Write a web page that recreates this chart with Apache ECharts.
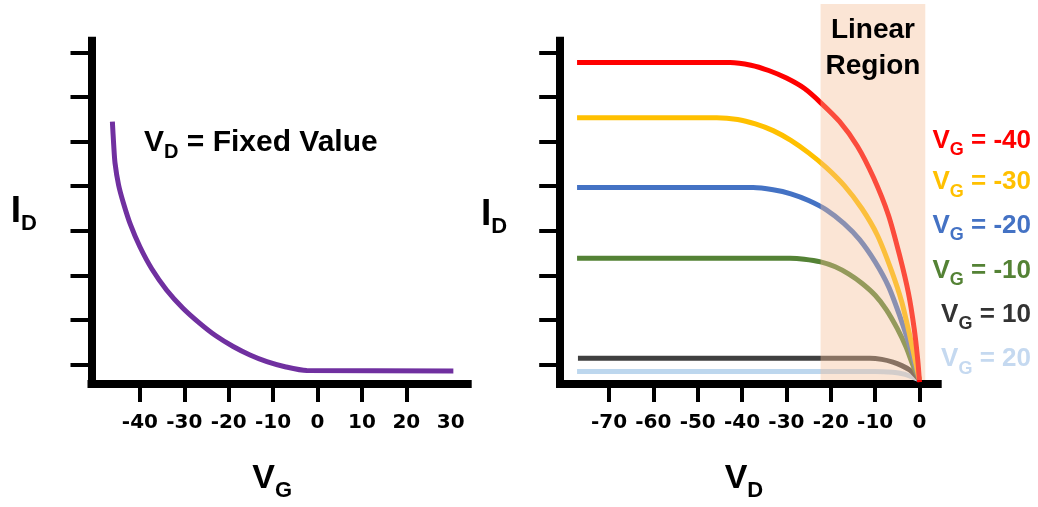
<!DOCTYPE html>
<html><head><meta charset="utf-8">
<script src="https://cdn.jsdelivr.net/npm/echarts@6/dist/echarts.min.js"></script>
<style>html,body{margin:0;padding:0;background:#fff}#c{width:1038px;height:507px}</style>
</head><body><div id="c"></div>
<script>
// ---- Left chart: I_D vs V_G at fixed V_D ----
const gateVoltage = [-46.2, -45.9, -45.6, -44.8, -43.7, -42.1, -40.0, -37.3, -34.0, -30.3, -26.5, -22.9, -19.0, -15.2, -11.4, -7.1, -2.4, 30.6];
const gateCurrent = [6.45, 5.93, 5.52, 5.03, 4.62, 4.13, 3.64, 3.14, 2.67, 2.26, 1.92, 1.64, 1.40, 1.21, 1.06, 0.94, 0.86, 0.85];
const leftXTicks = [-40, -30, -20, -10, 0, 10, 20];
const leftXLabels = [-40, -30, -20, -10, 0, 10, 20, 30];

// ---- Right chart: I_D vs V_D for several V_G ----
const rightXTicks = [-70, -60, -50, -40, -30, -20, -10, 0];
const yTicks = [1, 2, 3, 4, 5, 6, 7, 8];
const vgLabels = ['-40', '-30', '-20', '-10', '10', '20'];
const vdM40 = [-77.2, -42.7, -38, -34, -30, -26, -22.3, -18, -14, -10.4, -7, -4.5, -2.5, -1.2, -0.4, 0];
const idM40 = [7.78, 7.78, 7.72, 7.6, 7.43, 7.2, 6.88, 6.45, 5.9, 5.2, 4.35, 3.45, 2.6, 1.8, 1.1, 0.6];
const vdM30 = [-77.2, -45.7, -41, -37, -33, -29, -25, -21, -17, -13, -9.5, -6.3, -4, -2.2, -0.9, 0];
const idM30 = [6.54, 6.54, 6.5, 6.4, 6.25, 6.03, 5.75, 5.42, 5.02, 4.5, 3.9, 3.1, 2.4, 1.65, 1.05, 0.65];
const vdM20 = [-77.2, -37.5, -33, -29, -25, -21, -17, -13.5, -10, -7, -4.5, -2.5, -1, 0];
const idM20 = [4.97, 4.97, 4.92, 4.83, 4.68, 4.47, 4.16, 3.8, 3.3, 2.75, 2.1, 1.5, 0.98, 0.65];
const vdM10 = [-77.2, -29.2, -26, -22.3, -19, -16, -13, -10, -7.5, -5, -3, -1.5, 0];
const idM10 = [3.38, 3.38, 3.36, 3.3, 3.19, 3.03, 2.82, 2.55, 2.23, 1.8, 1.38, 0.98, 0.65];
const vdP10 = [-77.0, -11.2, -8.5, -6, -4, -2.2, -1, 0];
const idP10 = [1.135, 1.135, 1.11, 1.05, 0.97, 0.87, 0.76, 0.65];
const vdP20 = [-77.2, -10, -6, -3.5, -1.5, 0];
const idP20 = [0.84, 0.84, 0.82, 0.78, 0.71, 0.65];
const linearRegion = [-22.3, 1.3];

const curvesX = [vdM40, vdM30, vdM20, vdM10, vdP10, vdP20];
const curvesY = [idM40, idM30, idM20, idM10, idP10, idP20];
const lineColors = ['#ff0000', '#ffc000', '#4472c4', '#548235', '#404040', '#bdd7ee'];
const labelColors = ['#ff0000', '#ffc000', '#4472c4', '#548235', '#333333', '#c5d9f0'];

const SANS = "'Liberation Sans', Arial, sans-serif";
const TICKFONT = "'DejaVu Sans', Verdana, sans-serif";

const zip = (a, b) => a.map((v, i) => [v, b[i]]);

function subRich(F, f, P, color) {
  return {
    m: {fontSize: F, fontWeight: 'bold', fontFamily: SANS, color: color, fill: color, lineHeight: Math.round(F * 1.1), verticalAlign: 'bottom', padding: [0, 0, P, 0]},
    s: {fontSize: f, fontWeight: 'bold', fontFamily: SANS, color: color, fill: color, lineHeight: Math.round(f * 1.1), verticalAlign: 'bottom'}
  };
}

function xAxis(gridIndex, min, max, ticks, labels, nameText, padRight) {
  return {
    type: 'value', gridIndex, min, max,
    axisLine: {show: true, onZero: false, lineStyle: {color: '#000', width: 8, cap: 'square'}},
    axisTick: {show: true, customValues: ticks, length: 18, lineStyle: {color: '#000', width: 4}},
    axisLabel: {show: true, customValues: labels, margin: 29, color: '#000', fontSize: 20, fontWeight: 'bold', fontFamily: TICKFONT},
    splitLine: {show: false},
    name: nameText, nameLocation: 'middle', nameGap: 81,
    nameTextStyle: {padding: [0, padRight, 0, 0], rich: subRich(34, 22, 6, '#000')}
  };
}
function yAxis(gridIndex, nameGap, padTop) {
  return {
    type: 'value', gridIndex, min: 0.557, max: 8.27,
    axisLine: {show: true, onZero: false, lineStyle: {color: '#000', width: 8, cap: 'square'}},
    axisTick: {show: true, customValues: yTicks, length: 21, lineStyle: {color: '#000', width: 4}},
    axisLabel: {show: false},
    splitLine: {show: false},
    name: '{m|I}{s|D}', nameLocation: 'middle', nameRotate: 0, nameGap: nameGap,
    nameTextStyle: {padding: [padTop, 0, 0, 0], rich: subRich(37, 22, 5, '#000')}
  };
}

const chart = echarts.init(document.getElementById('c'), null, {renderer: 'canvas'});

const series = [{
  type: 'line', xAxisIndex: 0, yAxisIndex: 0,
  data: zip(gateVoltage, gateCurrent), showSymbol: false, smooth: 0.25,
  lineStyle: {color: '#7030a0', width: 5}, z: 3
}];
curvesX.forEach((xs, i) => {
  series.push({
    type: 'line', xAxisIndex: 1, yAxisIndex: 1, name: 'VG ' + vgLabels[i],
    data: zip(xs, curvesY[i]), showSymbol: false, smooth: 0.25,
    lineStyle: {color: lineColors[i], width: 5}, z: 3 + (5 - i)
  });
});

const legendTexts = vgLabels.map((lab, i) => ({
  type: 'text', id: 'lg' + i, z: 20,
  x: 1031, y: [159.5, 201.2, 244.5, 289.5, 333.5, 378][i],
  style: {
    text: '{m|V}{s|G}{m| = ' + lab + '}', align: 'right', verticalAlign: 'bottom',
    fill: labelColors[i],
    rich: subRich(26, 18, 6, labelColors[i])
  }
}));

chart.setOption({
  animation: false,
  grid: [
    {left: 91.5, top: 40.7, right: 570.3, bottom: 123, outerBoundsMode: 'none', containLabel: false},
    {left: 560.2, top: 40.7, right: 100.3, bottom: 123, outerBoundsMode: 'none', containLabel: false}
  ],
  xAxis: [
    xAxis(0, -50.9, 33.83, leftXTicks, leftXLabels, '{m|V}{s|G}', 15),
    xAxis(1, -81.0, 4.1, rightXTicks, rightXTicks, '{m|V}{s|D}', 10)
  ],
  yAxis: [yAxis(0, 54.5, 4), yAxis(1, 53, 10)],
  series: series,
  graphic: [
    {
      type: 'text', id: 'fixed', z: 20, x: 144, y: 162.3,
      style: {text: '{m|V}{s|D}{m| = Fixed Value}', align: 'left', verticalAlign: 'bottom', fill: '#000', rich: subRich(30, 20, 5, '#000')}
    }
  ].concat(legendTexts)
});

// Linear region overlay, positioned through the right chart's axes
const xl = chart.convertToPixel({xAxisIndex: 1}, linearRegion[0]);
const xr = chart.convertToPixel({xAxisIndex: 1}, linearRegion[1]);
const yb = chart.convertToPixel({yAxisIndex: 1}, 0.557) - 4;
chart.setOption({
  graphic: [
    {type: 'rect', id: 'region', z: 15, shape: {x: xl, y: 4, width: xr - xl, height: yb - 4},
     style: {fill: 'rgba(246,190,150,0.4)'}, silent: true},
    {type: 'text', id: 'regionLabel', z: 21, x: (xl + xr) / 2, y: 12,
     style: {text: 'Linear\nRegion', align: 'center', verticalAlign: 'top', fontSize: 28, lineHeight: 36,
             fontWeight: 'bold', fontFamily: SANS, fill: '#000'}}
  ]
});
</script></body></html>
